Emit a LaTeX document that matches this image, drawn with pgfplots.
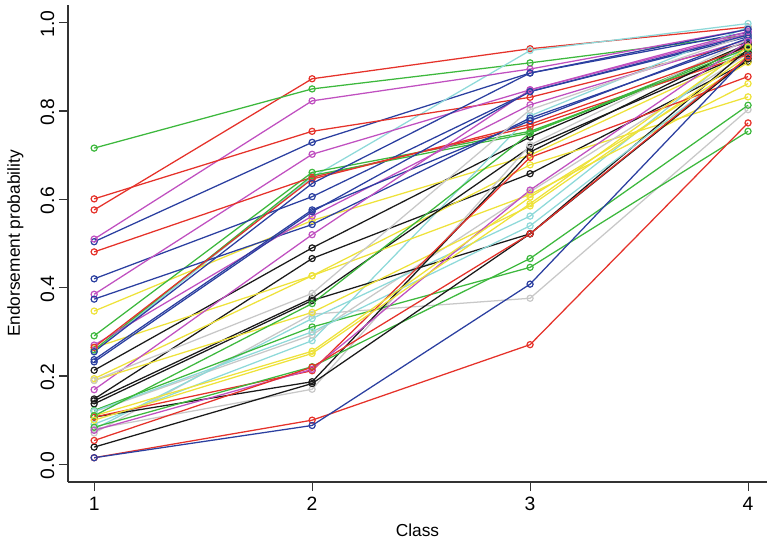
\documentclass[border=0pt]{standalone}
\usepackage{pgfplots}
\pgfplotsset{compat=1.18}
\usepackage{fontspec}
\setmainfont{Liberation Sans}
\definecolor{cK}{HTML}{1A1A1A}
\definecolor{cR}{HTML}{E5322A}
\definecolor{cG}{HTML}{3DB83D}
\definecolor{cB}{HTML}{2B3FA0}
\definecolor{cC}{HTML}{8ED9D9}
\definecolor{cM}{HTML}{C050C0}
\definecolor{cY}{HTML}{EEE23A}
\definecolor{cGr}{HTML}{C8C8C8}
\pgfplotsset{
  ln/.style={color=#1, line width=0.95pt, mark=o, mark size=2.3pt, mark options={line width=0.9pt, fill=white}},
}
\begin{document}
\begin{tikzpicture}
\begin{axis}[
  scale only axis,
  width=524.25pt, height=357.75pt,
  xmin=0.88, xmax=4.087, ymin=-0.04, ymax=1.04,
  axis x line=bottom, axis y line=left,
  axis line style={-, line width=1pt, color=black!80},
  tick style={line width=0.8pt, color=black!80},
  tick align=outside, major tick length=6.75pt,
  xtick={1,2,3,4}, ytick={0,0.2,0.4,0.6,0.8,1.0},
  ticklabel style={font=\fontsize{14.5}{16}\selectfont},
  label style={font=\fontsize{13}{15}\selectfont},
  yticklabel style={rotate=90, anchor=south, xshift=-1pt, /pgf/number format/fixed, /pgf/number format/precision=1, /pgf/number format/fixed zerofill},
  xticklabel style={yshift=-1pt},
  /pgf/number format/assume math mode=true,
  xlabel={Class}, ylabel={Endorsement probability},
  xlabel style={yshift=-3pt},
  ylabel style={yshift=6pt},
  clip=false,
]
\coordinate (ll) at (rel axis cs:0,0);
\coordinate (ur) at (rel axis cs:1,1);
\addplot[ln=cK] coordinates {(1,0.213) (2,0.490) (3,0.741) (4,0.952)};
\addplot[ln=cR] coordinates {(1,0.576) (2,0.873) (3,0.941) (4,0.990)};
\addplot[ln=cG] coordinates {(1,0.716) (2,0.850) (3,0.909) (4,0.972)};
\addplot[ln=cB] coordinates {(1,0.504) (2,0.729) (3,0.886) (4,0.978)};
\addplot[ln=cC] coordinates {(1,0.255) (2,0.650) (3,0.937) (4,0.998)};
\addplot[ln=cM] coordinates {(1,0.510) (2,0.823) (3,0.895) (4,0.985)};
\addplot[ln=cY] coordinates {(1,0.347) (2,0.552) (3,0.700) (4,0.930)};
\addplot[ln=cGr] coordinates {(1,0.071) (2,0.340) (3,0.376) (4,0.803)};
\addplot[ln=cK] coordinates {(1,0.148) (2,0.466) (3,0.658) (4,0.912)};
\addplot[ln=cR] coordinates {(1,0.601) (2,0.754) (3,0.831) (4,0.955)};
\addplot[ln=cG] coordinates {(1,0.291) (2,0.661) (3,0.754) (4,0.935)};
\addplot[ln=cB] coordinates {(1,0.420) (2,0.606) (3,0.844) (4,0.968)};
\addplot[ln=cC] coordinates {(1,0.091) (2,0.280) (3,0.789) (4,0.990)};
\addplot[ln=cM] coordinates {(1,0.385) (2,0.702) (3,0.848) (4,0.975)};
\addplot[ln=cY] coordinates {(1,0.264) (2,0.427) (3,0.678) (4,0.832)};
\addplot[ln=cGr] coordinates {(1,0.119) (2,0.293) (3,0.617) (4,0.930)};
\addplot[ln=cK] coordinates {(1,0.144) (2,0.376) (3,0.718) (4,0.932)};
\addplot[ln=cR] coordinates {(1,0.481) (2,0.650) (3,0.764) (4,0.928)};
\addplot[ln=cG] coordinates {(1,0.259) (2,0.654) (3,0.750) (4,0.948)};
\addplot[ln=cB] coordinates {(1,0.374) (2,0.543) (3,0.784) (4,0.958)};
\addplot[ln=cC] coordinates {(1,0.080) (2,0.330) (3,0.562) (4,0.950)};
\addplot[ln=cM] coordinates {(1,0.270) (2,0.562) (3,0.814) (4,0.962)};
\addplot[ln=cY] coordinates {(1,0.194) (2,0.427) (3,0.611) (4,0.862)};
\addplot[ln=cGr] coordinates {(1,0.080) (2,0.170) (3,0.723) (4,0.962)};
\addplot[ln=cK] coordinates {(1,0.137) (2,0.371) (3,0.522) (4,0.940)};
\addplot[ln=cR] coordinates {(1,0.265) (2,0.646) (3,0.770) (4,0.945)};
\addplot[ln=cG] coordinates {(1,0.122) (2,0.311) (3,0.446) (4,0.754)};
\addplot[ln=cB] coordinates {(1,0.237) (2,0.576) (3,0.778) (4,0.965)};
\addplot[ln=cC] coordinates {(1,0.120) (2,0.300) (3,0.540) (4,0.920)};
\addplot[ln=cM] coordinates {(1,0.169) (2,0.520) (3,0.848) (4,0.980)};
\addplot[ln=cY] coordinates {(1,0.190) (2,0.344) (3,0.585) (4,0.925)};
\addplot[ln=cGr] coordinates {(1,0.190) (2,0.387) (3,0.803) (4,0.972)};
\addplot[ln=cK] coordinates {(1,0.107) (2,0.187) (3,0.707) (4,0.950)};
\addplot[ln=cR] coordinates {(1,0.107) (2,0.212) (3,0.695) (4,0.878)};
\addplot[ln=cG] coordinates {(1,0.084) (2,0.221) (3,0.466) (4,0.813)};
\addplot[ln=cB] coordinates {(1,0.232) (2,0.572) (3,0.844) (4,0.972)};
\addplot[ln=cM] coordinates {(1,0.077) (2,0.215) (3,0.621) (4,0.958)};
\addplot[ln=cY] coordinates {(1,0.110) (2,0.256) (3,0.605) (4,0.910)};
\addplot[ln=cK] coordinates {(1,0.039) (2,0.183) (3,0.522) (4,0.918)};
\addplot[ln=cR] coordinates {(1,0.015) (2,0.100) (3,0.271) (4,0.773)};
\addplot[ln=cG] coordinates {(1,0.110) (2,0.364) (3,0.750) (4,0.942)};
\addplot[ln=cB] coordinates {(1,0.015) (2,0.088) (3,0.408) (4,0.925)};
\addplot[ln=cY] coordinates {(1,0.100) (2,0.251) (3,0.590) (4,0.945)};
\addplot[ln=cR] coordinates {(1,0.054) (2,0.220) (3,0.522) (4,0.922)};
\addplot[ln=cB] coordinates {(1,0.255) (2,0.636) (3,0.886) (4,0.985)};
\end{axis}
\pgfresetboundingbox
\path[use as bounding box] ([shift={(-51pt,-45.75pt)}]ll) rectangle ([shift={(0pt,3.75pt)}]ur);
\end{tikzpicture}
\end{document}
